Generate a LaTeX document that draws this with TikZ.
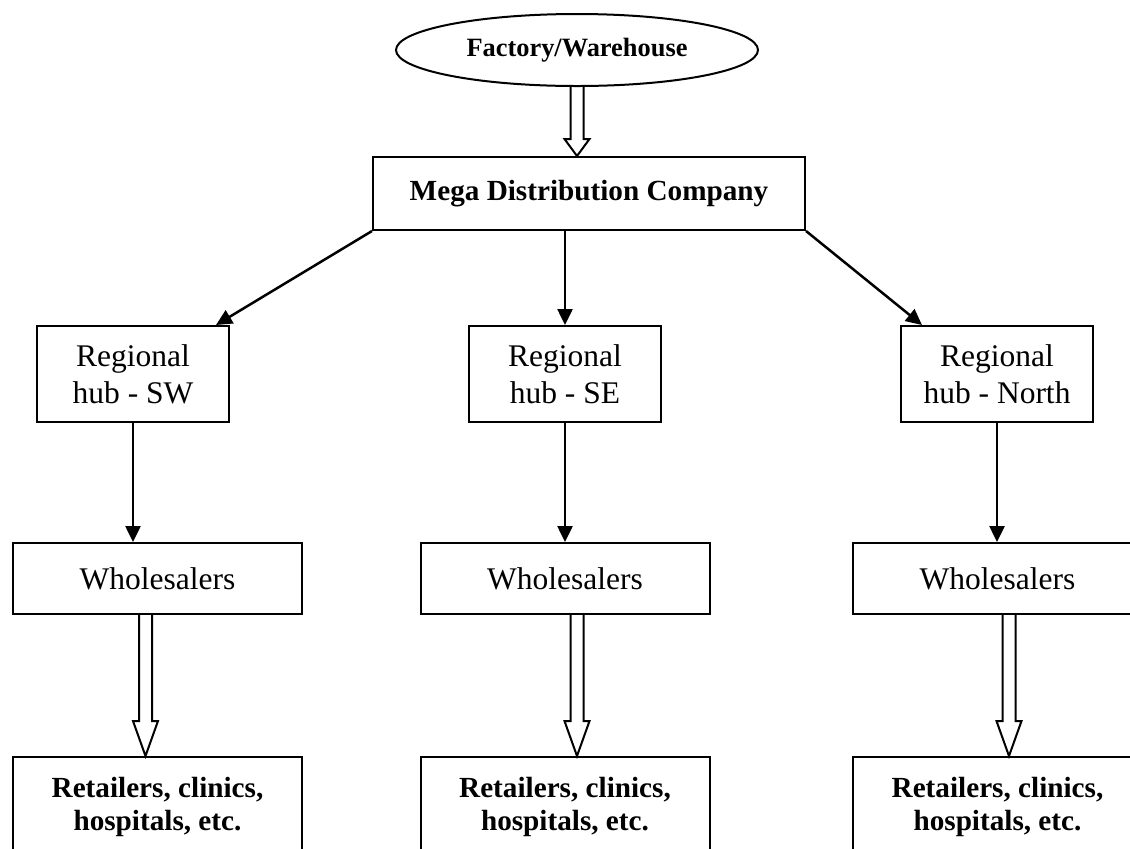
\documentclass[tikz,border=0pt]{standalone}
\usepackage{fontspec}
\setmainfont{Liberation Serif}
\usetikzlibrary{arrows.meta,shapes.geometric,calc}
\begin{document}
\begin{tikzpicture}[x=0.5pt,y=-0.5pt,
  box/.style={draw, line width=1pt, rectangle, inner sep=0pt, align=center},
  reg/.style={font=\fontsize{15.75}{18.5}\selectfont},
  bld/.style={font=\fontsize{14.6}{16.6}\selectfont\bfseries},
  hubbox/.style={box, reg, minimum width=96pt, minimum height=48pt},
  whbox/.style={box, reg, minimum width=144.5pt, minimum height=35.5pt},
  retbox/.style={box, bld, minimum width=144.5pt, minimum height=50pt},
  arr/.style={line width=1.25pt, -{Triangle[length=8pt,width=7.5pt]}},
  hollow/.style={line width=1pt, to path={let \p1=(\tikztostart), \p2=(\tikztotarget) in
     (\x1-3.25pt,\y1) -- (\x1-3.25pt,\y2+#1) -- (\x1-6.25pt,\y2+#1) -- (\x1,\y2)
     -- (\x1+6.25pt,\y2+#1) -- (\x1+3.25pt,\y2+#1) -- (\x1+3.25pt,\y1)}}
]
\useasboundingbox (0,0) rectangle (1130,848);
\clip (0,0) rectangle (1130,848);

\node[draw, ellipse, line width=1pt, minimum width=181pt, minimum height=36pt, inner sep=0pt,
      font=\fontsize{13.2}{15}\selectfont\bfseries] (ware) at (577,50) {Factory/Warehouse};
\node[box, bld, minimum width=216pt, minimum height=36.5pt] (mega) at (589,193.5) {Mega Distribution Company};

\node[hubbox] (swhub) at (133,374) {Regional\\hub - SW};
\node[hubbox] (sehub) at (565,374) {Regional\\hub - SE};
\node[hubbox] (nhub) at (997,374) {Regional\\hub - North};

\node[whbox] (swwh) at (157.5,578.5) {Wholesalers};
\node[whbox] (sewh) at (565,578.5) {Wholesalers};
\node[whbox] (nwh) at (997.5,578.5) {Wholesalers};

\node[retbox] (swret) at (157.5,807) {Retailers, clinics,\\hospitals, etc.};
\node[retbox] (seret) at (565,807) {Retailers, clinics,\\hospitals, etc.};
\node[retbox] (nret) at (997.5,807) {Retailers, clinics,\\hospitals, etc.};

% top hollow arrow
\draw[hollow=8.5pt] (ware.south) to (ware.south |- mega.north);

% mega to hubs
\coordinate (swtip) at ($(swhub.north east)+(-14,0)$);
\coordinate (ntip) at ($(nhub.north west)+(22,0)$);
\draw[arr] (mega.south west) -- (swtip);
\draw[arr] (sehub.north |- mega.south) -- (sehub.north);
\draw[arr] (mega.south east) -- (ntip);

% hubs to wholesalers
\draw[arr] (swhub.south) -- (swhub.south |- swwh.north);
\draw[arr] (sehub.south) -- (sehub.south |- sewh.north);
\draw[arr] (nhub.south) -- (nhub.south |- nwh.north);

% wholesalers to retailers
\coordinate (swh) at ($(swwh.south)+(-12,0)$);
\coordinate (seh) at ($(sewh.south)+(12,0)$);
\coordinate (nh) at ($(nwh.south)+(11.5,0)$);
\draw[hollow=17.5pt] (swh) to (swh |- swret.north);
\draw[hollow=17.5pt] (seh) to (seh |- seret.north);
\draw[hollow=17.5pt] (nh) to (nh |- nret.north);
\end{tikzpicture}
\end{document}
